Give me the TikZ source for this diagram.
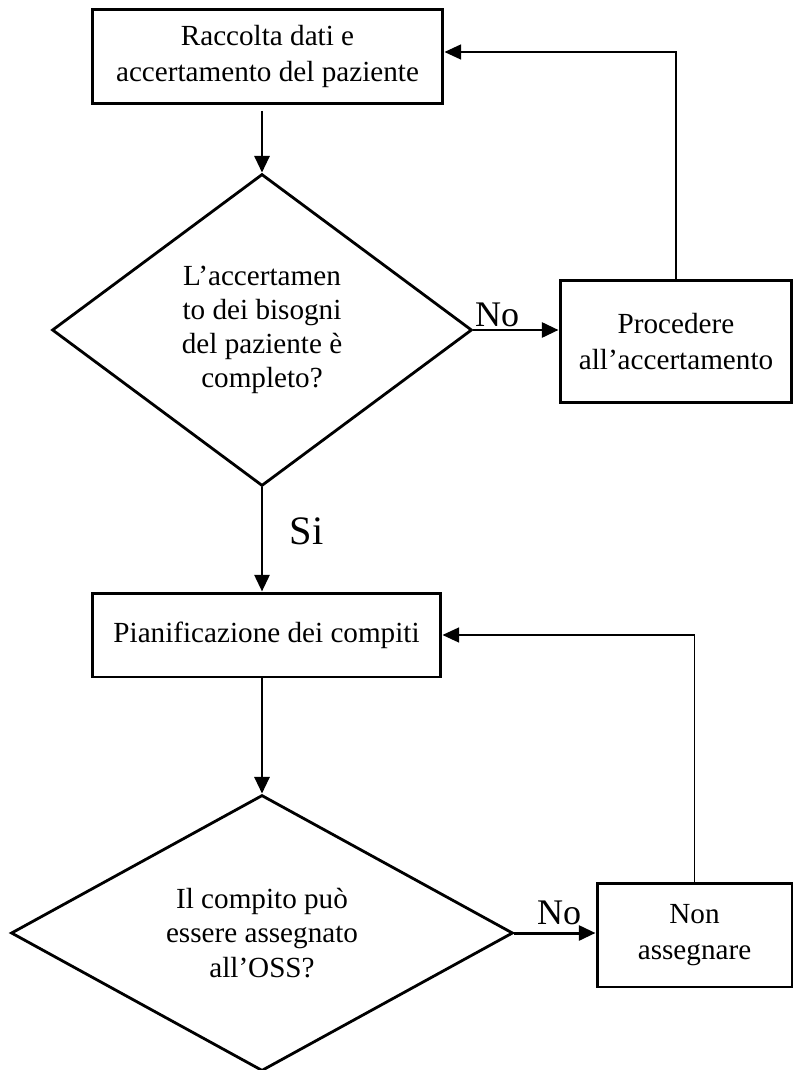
\documentclass[tikz,border=0pt]{standalone}
\usepackage{fontspec}
\setmainfont{Liberation Serif}
\usepackage{tikz}
\usetikzlibrary{arrows.meta,positioning,shapes.geometric}
\tikzset{
  >={Triangle[length=9.5pt,width=8.5pt]},
  % blocchi
  blocco/.style={rectangle,draw=black,line width=1.7pt,inner sep=0pt,align=center,
                 font=\fontsize{16.6}{20.5}\selectfont},
  rombo/.style={diamond,draw=black,line width=1.6pt,inner sep=0pt,align=center,
                font=\fontsize{16.6}{19.5}\selectfont},
  % frecce
  freccia/.style={->,draw=black,line width=1.7pt},
  ritorno/.style={->,draw=black,line width=1.1pt},
  etichetta/.style={font=\fontsize{20.5}{22}\selectfont,inner sep=1pt},
}
\begin{document}
\begin{tikzpicture}[x=0.02cm,y=-0.02cm]
  \useasboundingbox (0,0) rectangle (793,1070);
  \node[blocco,minimum width=7.02cm,minimum height=1.88cm] (raccolta) at (267.5,56.5)
    {Raccolta dati e\\accertamento del paziente};
  \node[rombo,minimum width=8.4cm,minimum height=6.24cm,shape aspect=1.35] (completo) at (262,330)
    {L’accertamen\\to dei bisogni\\del paziente è\\completo?};
  \node[blocco,minimum width=4.64cm,minimum height=2.46cm] (procedere) at (676,341.5)
    {Procedere\\all’accertamento};
  \node[blocco,minimum width=6.98cm,minimum height=1.68cm] (pianifica) at (266.5,635)
    {Pianificazione dei compiti};
  \node[rombo,minimum width=10.04cm,minimum height=5.52cm,shape aspect=2] (assegna) at (262,933)
    {Il compito può\\essere assegnato\\all’OSS?};
  \node[blocco,minimum width=3.9cm,minimum height=2.08cm] (nonass) at (694.5,935)
    {Non\\assegnare};

  \draw[freccia] ([yshift=-0.12cm]raccolta.south -| completo.north) -- (completo.north);
  \draw[freccia] (completo.east) -- node[etichetta,above,pos=0.28]{No} (completo.east -| procedere.west);
  \draw[freccia] (completo.south) -- node[etichetta,right=14pt,pos=0.42,
    font=\fontsize{23}{25}\selectfont]{Si} (completo.south |- pianifica.north);
  \draw[ritorno] (procedere.north) |- ([yshift=0.09cm]raccolta.east);
  \draw[freccia] (pianifica.south -| assegna.north) -- (assegna.north);
  \draw[freccia] (assegna.east) -- node[etichetta,above=3pt,pos=0.55]{No} (assegna.east -| nonass.west);
  \draw[ritorno] (nonass.north) |- (pianifica.east);
\end{tikzpicture}
\end{document}
